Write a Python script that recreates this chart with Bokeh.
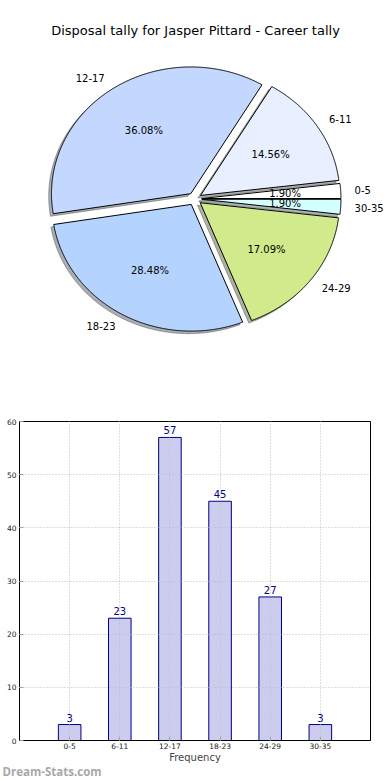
import numpy as np
from bokeh.plotting import figure
from bokeh.models import Range1d, FactorRange, Label, Title, FixedTicker, ColumnDataSource
from bokeh.embed import file_html
from bokeh.resources import INLINE
from bokeh.core.properties import value

# ---------------- data ----------------
title_text = "Disposal tally for Jasper Pittard - Career tally"
categories = ["0-5", "6-11", "12-17", "18-23", "24-29", "30-35"]
counts = [3, 23, 57, 45, 27, 3]
slice_colors = ["#ffffff", "#e8f0ff", "#c4d8ff", "#b4d4ff", "#d0ea8c", "#d4ffff"]
y_ticks = [0, 10, 20, 30, 40, 50, 60]
x_axis_label = "Frequency"
watermark = "Dream-Stats.com"

# ---------------- layout constants ----------------
FONT = "DejaVu Sans"
W = 390
PIE_H = 400
BAR_H = 380
CX, CY = 194.2, 198.4      # pie centre in figure pixels (from top-left)
RX, RY = 139.3, 126.7      # pie radii in pixels (ellipse)
EXPLODE = 0.05
SHADOW = 0.02
LABEL_DIST = 1.1
PCT_DIST = 0.6

# ---------------- pie ----------------
pie = figure(width=W, height=PIE_H,
             x_range=Range1d(-CX / RX, (W - CX) / RX),
             y_range=Range1d(-(PIE_H - CY) / RY, CY / RY),
             output_backend="svg", toolbar_location=None,
             min_border_left=0, min_border_right=0,
             min_border_top=0, min_border_bottom=0,
             x_axis_location=None, y_axis_location=None)
pie.grid.visible = False
pie.outline_line_color = None
pie.background_fill_color = "white"

total = float(sum(counts))
fracs = np.array(counts) / total
ends = np.cumsum(fracs) * 2 * np.pi
starts = ends - fracs * 2 * np.pi

xs, ys, sxs, sys_, shadow_cols = [], [], [], [], []
lab_x, lab_y, lab_align, pct_x, pct_y, pct_txt = [], [], [], [], [], []


def darker(hexcol, f=0.3):
    h = hexcol.lstrip("#")
    r, g, b = (int(h[i:i + 2], 16) for i in (0, 2, 4))
    return "#%02x%02x%02x" % (int(r * f), int(g * f), int(b * f))


for a0, a1, col, frac in zip(starts, ends, slice_colors, fracs):
    am = (a0 + a1) / 2
    ox, oy = EXPLODE * np.cos(am), EXPLODE * np.sin(am)
    n = max(int((a1 - a0) / 0.005), 4)
    t = np.linspace(a0, a1, n)
    px = np.concatenate([[ox], ox + np.cos(t)])
    py = np.concatenate([[oy], oy + np.sin(t)])
    xs.append(list(px)); ys.append(list(py))
    sxs.append(list(px - SHADOW)); sys_.append(list(py - SHADOW))
    shadow_cols.append(darker(col))
    lx = ox + LABEL_DIST * np.cos(am)
    ly = oy + LABEL_DIST * np.sin(am)
    lab_x.append(lx); lab_y.append(ly)
    lab_align.append("left" if lx > 0 else "right")
    pct_x.append(ox + PCT_DIST * np.cos(am))
    pct_y.append(oy + PCT_DIST * np.sin(am))
    pct_txt.append("%.2f%%" % (frac * 100))

pie.patches(xs=sxs, ys=sys_, fill_color=shadow_cols, fill_alpha=0.42,
            line_color=shadow_cols, line_alpha=0.42, line_width=1)
pie.patches(xs=xs, ys=ys, fill_color=slice_colors, line_color="black",
            line_width=1)

lab_src = ColumnDataSource(dict(x=lab_x, y=lab_y, text=categories, align=lab_align))
pie.text(x="x", y="y", text="text", text_align="align", source=lab_src,
         text_baseline="middle", text_font_size="10px", text_font=value(FONT),
         text_color="black")
pie.text(x=pct_x, y=pct_y, text=pct_txt, text_align="center",
         text_baseline="middle", text_font_size="10px", text_font=value(FONT),
         text_color="black")

pie.add_layout(Label(x=(195.0 - CX) / RX, y=(CY - 30.0) / RY, text=title_text,
                     text_align="center", text_baseline="middle",
                     text_font_size="13px", text_font=FONT, text_color="black"))

# ---------------- bars ----------------
bar = figure(width=W, height=BAR_H,
             x_range=FactorRange(*categories, range_padding=0.5,
                                 range_padding_units="absolute"),
             y_range=Range1d(0, 60),
             output_backend="svg", toolbar_location=None,
             min_border_left=19, min_border_right=20,
             min_border_top=21, min_border_bottom=40)
bar.background_fill_color = "white"
bar.outline_line_color = "black"
bar.outline_line_width = 1

bar.vbar(x=categories, top=counts, width=0.45, fill_color="#ccccee",
         line_color="#000080", line_width=1)
bar.text(x=categories, y=counts, text=[str(c) for c in counts],
         text_align="center", text_baseline="bottom", y_offset=-3,
         text_font_size="10px", text_font=value(FONT), text_color="#000080")

bar.grid.grid_line_color = "#bdbdbd"
bar.grid.grid_line_dash = "1 2"
bar.grid.grid_line_width = 1
bar.grid.level = "overlay"
bar.ygrid.ticker = FixedTicker(ticks=y_ticks)

bar.yaxis.ticker = FixedTicker(ticks=y_ticks)
for ax in (bar.xaxis[0], bar.yaxis[0]):
    ax.axis_line_color = "black"
    ax.major_tick_in = 4
    ax.major_tick_out = 0
    ax.major_tick_line_color = "#999999"
    ax.minor_tick_line_color = None
    ax.major_label_text_font = FONT
    ax.major_label_text_font_size = "7.5px"
    ax.major_label_text_color = "#222222"
    ax.major_label_standoff = 3
bar.xaxis.major_label_standoff = 2
bar.xaxis.axis_label = x_axis_label
bar.xaxis.axis_label_text_font = FONT
bar.xaxis.axis_label_text_font_size = "10px"
bar.xaxis.axis_label_text_font_style = "normal"
bar.xaxis.axis_label_standoff = 0

bar.add_layout(Title(text=watermark, align="left", offset=-17, standoff=-8,
                     text_font="Open Sans", text_font_style="bold",
                     text_font_size="11.5px", text_color="#a8a8a8"), "below")

open("out.html", "w").write(file_html([pie, bar], INLINE))
